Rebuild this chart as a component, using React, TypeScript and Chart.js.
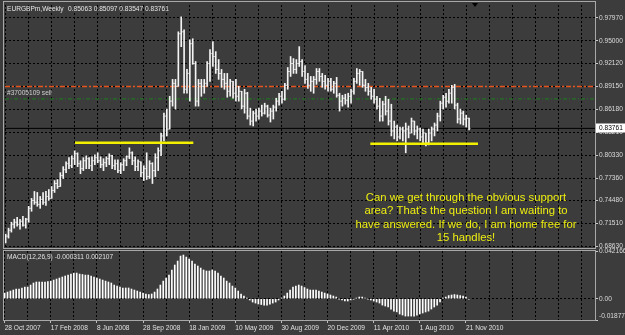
import React, { useEffect, useRef } from 'react';
import { Chart, registerables } from 'chart.js';
Chart.register(...registerables);

// ---------- data ----------
const SYMBOL_TITLE = 'EURGBPm,Weekly';
const ORDER_LABEL = '#37005109 sell';
const MACD_TITLE = 'MACD(12,26,9) -0.000311 0.002107';
const NOTE_LINES = [
  'Can we get through the obvious support',
  "area? That's the question I am waiting to",
  'have answered. If we do, I am home free for',
  '15 handles!',
];
const DATE_LABELS = ['28 Oct 2007', '17 Feb 2008', '8 Jun 2008', '28 Sep 2008', '18 Jan 2009', '10 May 2009',
  '30 Aug 2009', '20 Dec 2009', '11 Apr 2010', '1 Aug 2010', '21 Nov 2010'];
const DATE_TICK_IDX = [0, 16, 32, 48, 64, 80, 96, 112, 128, 144, 160];
const PRICE_TICKS = [0.6863, 0.7151, 0.7448, 0.7736, 0.8033, 0.8321, 0.8618, 0.8915, 0.9212, 0.95, 0.9797];
const MACD_TICKS = [-0.01877, 0, 0.042166];
const MACD_TICK_LABELS = ['-0.01877', '0.00', '0.042166'];
const SELL_LEVEL = 0.8915;
const ORDER_LEVEL = 0.8755;
const SUPPORT_LEVELS = [0.819, 0.8177];
const SUPPORT_FROM = [24.1, 126.7];
const SUPPORT_TO = [65.2, 164.1];

const OPEN = [0.6940, 0.6991, 0.7067, 0.7144, 0.7169, 0.7144, 0.7182, 0.7131, 0.7208, 0.7348,
  0.7450, 0.7425, 0.7399, 0.7463, 0.7425, 0.7501, 0.7476, 0.7578, 0.7667, 0.7629,
  0.7769, 0.7845, 0.7922, 0.7896, 0.7986, 0.8050, 0.7922, 0.7858, 0.7960, 0.7986,
  0.7896, 0.7960, 0.7999, 0.7960, 0.7909, 0.7935, 0.7986, 0.8024, 0.7896, 0.7922,
  0.7833, 0.7909, 0.7960, 0.8011, 0.8062, 0.7960, 0.7884, 0.7947, 0.7807, 0.7858,
  0.7756, 0.7922, 0.7833, 0.7999, 0.8088, 0.8279, 0.8534, 0.8368, 0.8726, 0.8955,
  0.8917, 0.9593, 0.9618, 0.8879, 0.9083, 0.9465, 0.9210, 0.8726, 0.8955, 0.8917,
  0.8955, 0.9210, 0.9338, 0.9300, 0.9134, 0.9083, 0.9006, 0.8955, 0.8853, 0.8981,
  0.8828, 0.8789, 0.8853, 0.8662, 0.8828, 0.8534, 0.8470, 0.8572, 0.8534, 0.8598,
  0.8572, 0.8662, 0.8547, 0.8598, 0.8649, 0.8726, 0.8789, 0.8751, 0.8930, 0.9108,
  0.9210, 0.9134, 0.9210, 0.9236, 0.9108, 0.9006, 0.8930, 0.8981, 0.9006, 0.9108,
  0.9044, 0.8981, 0.8930, 0.8981, 0.8879, 0.8955, 0.8802, 0.8726, 0.8764, 0.8738,
  0.8789, 0.8853, 0.8981, 0.9083, 0.9108, 0.8930, 0.8904, 0.8853, 0.8789, 0.8751,
  0.8662, 0.8534, 0.8687, 0.8598, 0.8470, 0.8343, 0.8394, 0.8266, 0.8368, 0.8343,
  0.8368, 0.8317, 0.8470, 0.8343, 0.8368, 0.8266, 0.8317, 0.8190, 0.8317, 0.8368,
  0.8419, 0.8534, 0.8700, 0.8777, 0.8726, 0.8828, 0.8904, 0.8675, 0.8496, 0.8572,
  0.8496, 0.85063];
const HIGH = [0.7016, 0.7093, 0.7169, 0.7208, 0.7233, 0.7208, 0.7246, 0.7220, 0.7374, 0.7476,
  0.7565, 0.7552, 0.7501, 0.7552, 0.7565, 0.7590, 0.7629, 0.7705, 0.7718, 0.7807,
  0.7884, 0.7947, 0.7999, 0.8024, 0.8088, 0.8062, 0.7960, 0.7999, 0.8024, 0.7999,
  0.8011, 0.8037, 0.8062, 0.8011, 0.7986, 0.8011, 0.8050, 0.8030, 0.7973, 0.7973,
  0.7935, 0.7986, 0.8024, 0.8126, 0.8075, 0.8011, 0.7973, 0.7947, 0.7896, 0.8062,
  0.7960, 0.7935, 0.8050, 0.8126, 0.8317, 0.8572, 0.8624, 0.8789, 0.9006, 0.9006,
  0.9618, 0.9810, 0.9644, 0.9134, 0.9516, 0.9529, 0.9236, 0.9006, 0.9006, 0.9006,
  0.9236, 0.9389, 0.9491, 0.9363, 0.9261, 0.9134, 0.9083, 0.9083, 0.9006, 0.8981,
  0.9006, 0.8917, 0.8853, 0.8879, 0.8840, 0.8636, 0.8598, 0.8624, 0.8636, 0.8675,
  0.8700, 0.8675, 0.8636, 0.8675, 0.8764, 0.8828, 0.8853, 0.8955, 0.9159, 0.9300,
  0.9274, 0.9261, 0.9427, 0.9261, 0.9185, 0.9083, 0.9044, 0.9044, 0.9146, 0.9146,
  0.9083, 0.9057, 0.9019, 0.9019, 0.8981, 0.9032, 0.8828, 0.8802, 0.8815, 0.8828,
  0.8879, 0.9019, 0.9146, 0.9134, 0.9108, 0.9006, 0.8955, 0.8904, 0.8879, 0.8789,
  0.8764, 0.8726, 0.8789, 0.8751, 0.8687, 0.8470, 0.8419, 0.8394, 0.8394, 0.8445,
  0.8407, 0.8509, 0.8470, 0.8407, 0.8381, 0.8368, 0.8317, 0.8368, 0.8394, 0.8445,
  0.8572, 0.8726, 0.8802, 0.8828, 0.8879, 0.8930, 0.8942, 0.8700, 0.8624, 0.8598,
  0.8547, 0.85097];
const LOW = [0.6902, 0.6965, 0.7042, 0.7093, 0.7118, 0.7080, 0.7118, 0.7093, 0.7169, 0.7310,
  0.7399, 0.7374, 0.7348, 0.7399, 0.7386, 0.7450, 0.7476, 0.7552, 0.7603, 0.7629,
  0.7731, 0.7807, 0.7858, 0.7871, 0.7909, 0.7884, 0.7794, 0.7833, 0.7858, 0.7858,
  0.7833, 0.7909, 0.7935, 0.7871, 0.7833, 0.7884, 0.7909, 0.7858, 0.7845, 0.7807,
  0.7794, 0.7833, 0.7896, 0.7986, 0.7909, 0.7833, 0.7833, 0.7756, 0.7705, 0.7718,
  0.7731, 0.7667, 0.7756, 0.7833, 0.8024, 0.8215, 0.8279, 0.8368, 0.8662, 0.8624,
  0.8917, 0.9427, 0.8828, 0.8828, 0.8726, 0.9200, 0.8662, 0.8662, 0.8789, 0.8828,
  0.8917, 0.8981, 0.9172, 0.9083, 0.9006, 0.8904, 0.8879, 0.8777, 0.8789, 0.8764,
  0.8726, 0.8726, 0.8624, 0.8572, 0.8496, 0.8419, 0.8407, 0.8470, 0.8496, 0.8534,
  0.8560, 0.8521, 0.8458, 0.8496, 0.8598, 0.8675, 0.8700, 0.8740, 0.8879, 0.9044,
  0.9083, 0.9083, 0.9172, 0.9044, 0.8955, 0.8891, 0.8853, 0.8828, 0.8942, 0.8981,
  0.8904, 0.8879, 0.8853, 0.8853, 0.8828, 0.8777, 0.8598, 0.8662, 0.8687, 0.8649,
  0.8700, 0.8815, 0.8955, 0.8930, 0.8904, 0.8853, 0.8802, 0.8751, 0.8700, 0.8624,
  0.8470, 0.8470, 0.8547, 0.8419, 0.8279, 0.8241, 0.8215, 0.8241, 0.8215, 0.8062,
  0.8254, 0.8317, 0.8292, 0.8241, 0.8215, 0.8177, 0.8152, 0.8164, 0.8215, 0.8279,
  0.8343, 0.8470, 0.8624, 0.8649, 0.8700, 0.8700, 0.8624, 0.8445, 0.8432, 0.8419,
  0.8394, 0.83547];
const CLOSE = [0.6991, 0.7067, 0.7144, 0.7169, 0.7144, 0.7182, 0.7131, 0.7208, 0.7348, 0.7450,
  0.7425, 0.7399, 0.7463, 0.7425, 0.7501, 0.7476, 0.7578, 0.7667, 0.7629, 0.7769,
  0.7845, 0.7922, 0.7896, 0.7986, 0.8050, 0.7922, 0.7858, 0.7960, 0.7986, 0.7896,
  0.7960, 0.7999, 0.7960, 0.7909, 0.7935, 0.7986, 0.8024, 0.7896, 0.7922, 0.7833,
  0.7909, 0.7960, 0.8011, 0.8062, 0.7960, 0.7884, 0.7947, 0.7807, 0.7858, 0.7756,
  0.7922, 0.7833, 0.7999, 0.8088, 0.8279, 0.8534, 0.8368, 0.8726, 0.8955, 0.8917,
  0.9593, 0.9618, 0.8879, 0.9083, 0.9465, 0.9210, 0.8726, 0.8955, 0.8917, 0.8955,
  0.9210, 0.9338, 0.9300, 0.9134, 0.9083, 0.9006, 0.8955, 0.8853, 0.8981, 0.8828,
  0.8789, 0.8853, 0.8662, 0.8828, 0.8534, 0.8470, 0.8572, 0.8534, 0.8598, 0.8572,
  0.8662, 0.8547, 0.8598, 0.8649, 0.8726, 0.8789, 0.8751, 0.8930, 0.9108, 0.9210,
  0.9134, 0.9210, 0.9236, 0.9108, 0.9006, 0.8930, 0.8981, 0.9006, 0.9108, 0.9044,
  0.8981, 0.8930, 0.8981, 0.8879, 0.8955, 0.8802, 0.8726, 0.8764, 0.8738, 0.8789,
  0.8853, 0.8981, 0.9083, 0.9108, 0.8930, 0.8904, 0.8853, 0.8789, 0.8751, 0.8662,
  0.8534, 0.8687, 0.8598, 0.8470, 0.8343, 0.8394, 0.8266, 0.8368, 0.8343, 0.8368,
  0.8317, 0.8470, 0.8343, 0.8368, 0.8266, 0.8317, 0.8190, 0.8317, 0.8368, 0.8419,
  0.8534, 0.8700, 0.8777, 0.8726, 0.8828, 0.8904, 0.8675, 0.8496, 0.8572, 0.8496,
  0.8506, 0.83761];
const MACD = [0.0050, 0.0059, 0.0068, 0.0077, 0.0086, 0.0086, 0.0095, 0.0103, 0.0103, 0.0121,
  0.0139, 0.0148, 0.0148, 0.0148, 0.0148, 0.0152, 0.0156, 0.0165, 0.0174, 0.0183,
  0.0192, 0.0201, 0.0209, 0.0218, 0.0227, 0.0227, 0.0218, 0.0214, 0.0209, 0.0209,
  0.0201, 0.0192, 0.0183, 0.0174, 0.0165, 0.0156, 0.0148, 0.0139, 0.0121, 0.0112,
  0.0103, 0.0095, 0.0095, 0.0095, 0.0086, 0.0077, 0.0068, 0.0059, 0.0050, 0.0042,
  0.0037, 0.0042, 0.0059, 0.0086, 0.0121, 0.0156, 0.0183, 0.0209, 0.0254, 0.0298,
  0.0333, 0.0377, 0.0386, 0.0368, 0.0351, 0.0333, 0.0307, 0.0289, 0.0271, 0.0254,
  0.0245, 0.0245, 0.0254, 0.0245, 0.0227, 0.0201, 0.0183, 0.0156, 0.0139, 0.0112,
  0.0095, 0.0068, 0.0042, 0.0024, 0.0006, -0.0011, -0.0029, -0.0038, -0.0047, -0.0051,
  -0.0056, -0.0056, -0.0047, -0.0038, -0.0029, -0.0011, 0.0006, 0.0024, 0.0050, 0.0077,
  0.0103, 0.0112, 0.0121, 0.0112, 0.0099, 0.0086, 0.0077, 0.0077, 0.0077, 0.0068,
  0.0059, 0.0050, 0.0042, 0.0033, 0.0024, 0.0015, -0.0003, -0.0011, -0.0020, -0.0020,
  -0.0011, -0.0003, 0.0006, 0.0015, 0.0015, 0.0006, -0.0003, -0.0011, -0.0020, -0.0029,
  -0.0038, -0.0056, -0.0064, -0.0073, -0.0091, -0.0109, -0.0117, -0.0135, -0.0144, -0.0153,
  -0.0153, -0.0153, -0.0153, -0.0144, -0.0135, -0.0126, -0.0117, -0.0109, -0.0091, -0.0073,
  -0.0056, -0.0029, 0.0006, 0.0015, 0.0028, 0.0033, 0.0037, 0.0033, 0.0028, 0.0024,
  0.0015, -0.000311];

// ---------- axis ranges / style ----------
const X_MIN = -0.22;
const X_MAX = 204.75;
const Y_MIN = 0.68378;
const Y_MAX = 0.99627;
const GRID_STEP = 8;
const BG = '#3c3c3c';
const FRAME = '#a8a8a8';
const FONT = "'Liberation Sans', Arial, sans-serif";
const SMALL = 6.6;
const LAST = CLOSE.length - 1;

const gridTicks = () => {
  const t: { value: number }[] = [];
  for (let v = 0; v <= X_MAX; v += GRID_STEP) t.push({ value: v });
  return t;
};

const hline = (v: number, from: number, to: number) => [{ x: from, y: v }, { x: to, y: v }];

export default function App() {
  const refA = useRef<HTMLCanvasElement>(null);
  const refB = useRef<HTMLCanvasElement>(null);

  useEffect(() => {
    document.body.style.margin = '0';

    const mainDecor = {
      id: 'mainDecor',
      afterDraw(chart: any) {
        const { ctx, scales } = chart;
        ctx.save();
        ctx.strokeStyle = FRAME;
        ctx.lineWidth = 1;
        ctx.strokeRect(3.5, 1.5, 592, 247);
        ctx.font = `${SMALL}px ${FONT}`;
        ctx.textAlign = 'left';
        ctx.textBaseline = 'middle';
        ctx.fillStyle = '#e6e6e6';
        ctx.fillText(SYMBOL_TITLE, 7, 9.5);
        const ohlc = [OPEN[LAST], HIGH[LAST], LOW[LAST], CLOSE[LAST]].map((v) => v.toFixed(5)).join(' ');
        ctx.fillText(ohlc, 68, 9.5);
        ctx.fillStyle = '#d0d0d0';
        ctx.fillText(ORDER_LABEL, 7, 93.5);
        // annotation
        ctx.font = `11.3px ${FONT}`;
        ctx.fillStyle = '#eeee10';
        ctx.textAlign = 'center';
        ctx.textBaseline = 'alphabetic';
        NOTE_LINES.forEach((t, k) => ctx.fillText(t, 466, 201 + k * 13.3));
        // current price box
        const py = scales.y.getPixelForValue(CLOSE[LAST]);
        ctx.fillStyle = '#ffffff';
        ctx.fillRect(596, Math.round(py) - 4.5, 29, 9);
        ctx.fillStyle = '#000000';
        ctx.font = `${SMALL}px ${FONT}`;
        ctx.textAlign = 'left';
        ctx.textBaseline = 'middle';
        ctx.fillText(CLOSE[LAST].toFixed(5), 599, py);
        // shift marker
        ctx.beginPath();
        ctx.moveTo(472, 3);
        ctx.lineTo(478, 3);
        ctx.lineTo(475, 7);
        ctx.closePath();
        ctx.fillStyle = '#000';
        ctx.fill();
        ctx.restore();
      },
    };

    const macdDecor = {
      id: 'macdDecor',
      afterDraw(chart: any) {
        const { ctx, chartArea } = chart;
        ctx.save();
        ctx.strokeStyle = FRAME;
        ctx.lineWidth = 1;
        ctx.strokeRect(3.5, chartArea.top - 0.5, 592, chartArea.bottom - chartArea.top + 1);
        ctx.font = `${SMALL}px ${FONT}`;
        ctx.textAlign = 'left';
        ctx.textBaseline = 'middle';
        ctx.fillStyle = '#e0e0e0';
        ctx.fillText(MACD_TITLE, 7, chartArea.top + 5.7);
        ctx.restore();
      },
    };

    const lineDs = (data: any, color: string, width: number, dash: number[], order: number) => ({
      type: 'line',
      data,
      borderColor: color,
      borderWidth: width,
      borderDash: dash,
      pointRadius: 0,
      fill: false,
      order,
    });

    const a = new Chart(refA.current as HTMLCanvasElement, {
      type: 'bar',
      data: {
        datasets: [
          {
            type: 'bar',
            data: HIGH.map((h, i) => ({ x: i, y: [LOW[i], h] })),
            backgroundColor: '#f4f4f4',
            borderWidth: 0,
            barThickness: 1,
            grouped: false,
            order: 2,
          } as any,
          {
            type: 'line',
            data: OPEN.map((o, i) => ({ x: i - 0.3, y: o })),
            showLine: false,
            pointStyle: 'line',
            pointRadius: 0.6,
            pointBorderWidth: 1,
            pointBorderColor: '#cfcfcf',
            order: 2,
          } as any,
          {
            type: 'line',
            data: CLOSE.map((c, i) => ({ x: i + 0.3, y: c })),
            showLine: false,
            pointStyle: 'line',
            pointRadius: 0.6,
            pointBorderWidth: 1,
            pointBorderColor: '#cfcfcf',
            order: 2,
          } as any,
          lineDs(hline(SELL_LEVEL, X_MIN, X_MAX), '#e4541c', 1.5, [5, 2, 2, 2], 5) as any,
          lineDs(hline(ORDER_LEVEL, X_MIN, X_MAX), '#1f7f1f', 1, [4, 2, 1, 2], 5) as any,
          lineDs(hline(CLOSE[LAST], X_MIN, X_MAX), '#000000', 1, [], 5) as any,
          lineDs(hline(SUPPORT_LEVELS[0], SUPPORT_FROM[0], SUPPORT_TO[0]), '#f0f000', 2.5, [], 0) as any,
          lineDs(hline(SUPPORT_LEVELS[1], SUPPORT_FROM[1], SUPPORT_TO[1]), '#f0f000', 2.5, [], 0) as any,
        ],
      },
      options: {
        responsive: false,
        maintainAspectRatio: false,
        animation: false,
        events: [],
        layout: { padding: { left: 4, top: 3, right: 0, bottom: 14 } },
        plugins: { legend: { display: false }, tooltip: { enabled: false }, title: { display: false } },
        scales: {
          x: {
            type: 'linear',
            min: X_MIN,
            max: X_MAX,
            offset: false,
            afterBuildTicks: (s: any) => { s.ticks = gridTicks(); },
            afterFit: (s: any) => { s.height = 0; },
            ticks: { display: false },
            grid: { color: '#000000', drawTicks: false, offset: false, lineWidth: 1 },
            border: { display: false, dash: [2, 2] },
          },
          y: {
            type: 'linear',
            position: 'right',
            min: Y_MIN,
            max: Y_MAX,
            afterBuildTicks: (s: any) => { s.ticks = PRICE_TICKS.map((v) => ({ value: v })); },
            afterFit: (s: any) => { s.width = 30; },
            ticks: {
              autoSkip: false,
              padding: 1,
              color: '#dcdcdc',
              font: { family: FONT, size: SMALL },
              callback: (v: any) => Number(v).toFixed(5),
            },
            grid: { color: '#000000', drawTicks: true, tickLength: 3, tickColor: '#c8c8c8', lineWidth: 1 },
            border: { display: false, dash: [2, 2] },
          },
        },
      } as any,
      plugins: [mainDecor],
    } as any);

    const b = new Chart(refB.current as HTMLCanvasElement, {
      type: 'bar',
      data: {
        datasets: [
          {
            type: 'bar',
            data: MACD.map((v, i) => ({ x: i, y: v })),
            backgroundColor: '#ffffff',
            borderWidth: 0,
            barThickness: 1,
            grouped: false,
          } as any,
        ],
      },
      options: {
        responsive: false,
        maintainAspectRatio: false,
        animation: false,
        events: [],
        layout: { padding: { left: 4, top: 11, right: 0, bottom: 0 } },
        plugins: { legend: { display: false }, tooltip: { enabled: false } },
        scales: {
          x: {
            type: 'linear',
            min: X_MIN,
            max: X_MAX,
            offset: false,
            afterBuildTicks: (s: any) => { s.ticks = gridTicks(); },
            afterFit: (s: any) => { s.height = 15; },
            ticks: {
              autoSkip: false,
              maxRotation: 0,
              minRotation: 0,
              align: 'start',
              padding: 1,
              color: '#e0e0e0',
              font: { family: FONT, size: SMALL },
              callback: (v: any) => {
                const k = DATE_TICK_IDX.indexOf(Number(v));
                return k >= 0 ? DATE_LABELS[k] : '';
              },
            },
            grid: {
              color: '#000000',
              offset: false,
              tickLength: 3,
              tickColor: (c: any) => (c.tick && DATE_TICK_IDX.includes(c.tick.value) ? '#c0c0c0' : 'rgba(0,0,0,0)'),
            },
            border: { display: false, dash: [2, 2] },
          },
          y: {
            type: 'linear',
            position: 'right',
            min: MACD_TICKS[0],
            max: MACD_TICKS[2],
            afterBuildTicks: (s: any) => { s.ticks = MACD_TICKS.map((v) => ({ value: v })); },
            afterFit: (s: any) => { s.width = 30; },
            ticks: {
              autoSkip: false,
              padding: 1,
              color: '#dcdcdc',
              font: { family: FONT, size: SMALL, lineHeight: 1.3 },
              callback: (v: any) => {
                const k = MACD_TICKS.indexOf(Number(v));
                const t = MACD_TICK_LABELS[k];
                return k === 0 ? [t, ''] : t;
              },
            },
            grid: {
              color: (c: any) => (c.tick && c.tick.value === 0 ? '#000000' : 'rgba(0,0,0,0)'),
              tickLength: 3,
              tickColor: '#c8c8c8',
            },
            border: { display: false, dash: [2, 2] },
          },
        },
      } as any,
      plugins: [macdDecor],
    } as any);

    return () => {
      a.destroy();
      b.destroy();
    };
  }, []);

  return (
    <div style={{ position: 'relative', width: 625, height: 335, background: BG, overflow: 'hidden' }}>
      <canvas ref={refA} width={625} height={262} style={{ position: 'absolute', left: 0, top: 0 }} />
      <canvas ref={refB} width={625} height={95} style={{ position: 'absolute', left: 0, top: 240 }} />
    </div>
  );
}
